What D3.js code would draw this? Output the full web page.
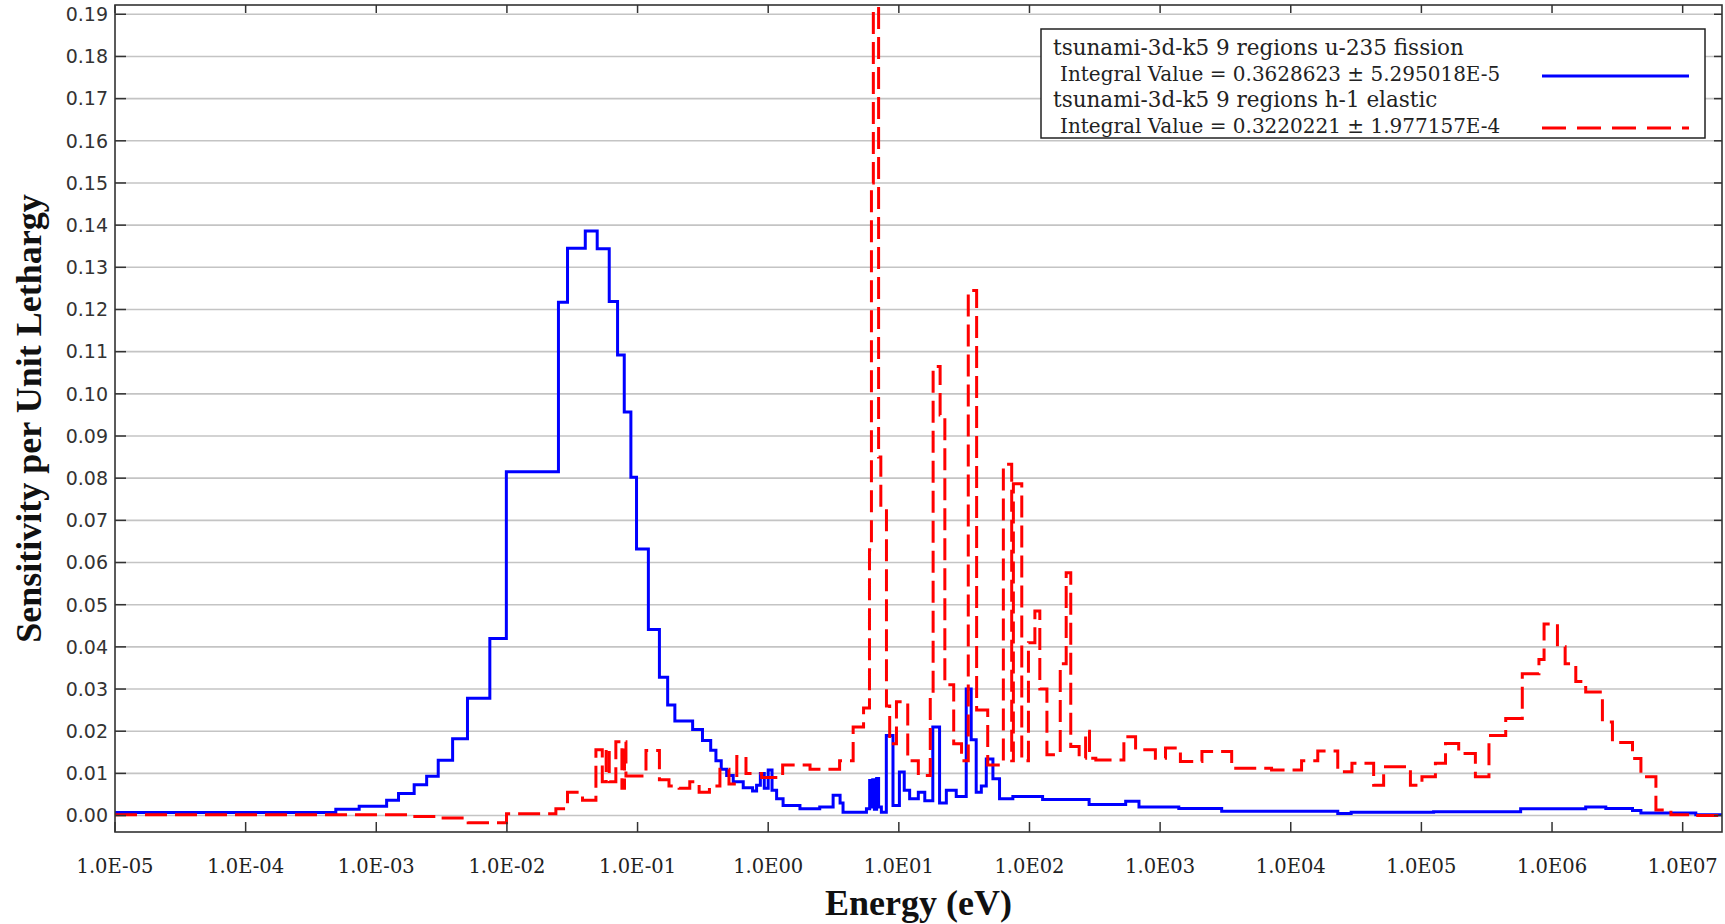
<!DOCTYPE html>
<html>
<head>
<meta charset="utf-8">
<script src="https://cdn.jsdelivr.net/npm/d3@7"></script>
<style>
  body { margin: 0; background: #fff; }
  svg { display: block; }
</style>
</head>
<body>
<svg id="chart" width="1725" height="924"></svg>
<script>
// step curves: bin lower energy (eV) and sensitivity per unit lethargy
const u235Energy = [1e-5, 4.9e-4, 7.4e-4, 1.2e-3, 1.48e-3, 1.95e-3, 2.43e-3, 2.98e-3, 3.84e-3, 4.99e-3,
  7.4e-3, 9.9e-3, 2.48e-2, 2.91e-2, 3.98e-2, 4.91e-2, 6.07e-2, 7.03e-2, 7.91e-2, 8.89e-2,
  9.82e-2, 0.121, 0.147, 0.170, 0.193, 0.264, 0.314, 0.363, 0.398, 0.437,
  0.481, 0.540, 0.644, 0.759, 0.815, 0.871, 0.933, 1.0, 1.07, 1.16,
  1.30, 1.75, 2.48, 3.14, 3.55, 3.74, 5.65, 5.98, 6.15, 6.31,
  6.5, 6.76, 7.0, 7.35, 8.02, 9.02, 10.1, 11.0, 12.1, 14.1,
  15.8, 18.2, 20.5, 23.1, 27.5, 32.8, 35.8, 39.1, 42.8, 46.7,
  52.5, 59.0, 74.6, 126, 286, 545, 689, 1390, 2960, 22900,
  29000, 124000, 575000, 1.81e6, 2.58e6, 4.13e6, 4.79e6, 1.26e7, 2e7];
const u235Sens = [0.0007, 0.0015, 0.0022, 0.0036, 0.0052, 0.0073, 0.0093, 0.0131, 0.0182, 0.0278,
  0.0420, 0.0815, 0.1217, 0.1345, 0.1386, 0.1344, 0.1219, 0.1092, 0.0957, 0.0802,
  0.0632, 0.0441, 0.0328, 0.0262, 0.0224, 0.0204, 0.0178, 0.0155, 0.0130, 0.0110,
  0.0095, 0.0080, 0.0066, 0.0058, 0.0072, 0.0100, 0.0065, 0.0108, 0.0060, 0.0040,
  0.0024, 0.0016, 0.0020, 0.0048, 0.0030, 0.0008, 0.0016, 0.0083, 0.0020, 0.0085,
  0.0015, 0.0088, 0.0020, 0.0008, 0.0190, 0.0024, 0.0103, 0.0060, 0.0040, 0.0055,
  0.0035, 0.0210, 0.0030, 0.0060, 0.0045, 0.0300, 0.0180, 0.0055, 0.0070, 0.0134,
  0.0087, 0.0040, 0.0045, 0.0038, 0.0026, 0.0034, 0.0020, 0.0017, 0.0010, 0.0005,
  0.0008, 0.0009, 0.0016, 0.0020, 0.0017, 0.0012, 0.0006, 0.0002, 0.0002];

const h1Energy = [1e-5, 1.91e-3, 2.89e-3, 5.05e-3, 9.93e-3, 2.37e-2, 2.91e-2, 3.79e-2, 4.80e-2, 5.37e-2,
  5.75e-2, 6.07e-2, 6.82e-2, 7.59e-2, 7.94e-2, 8.15e-2, 0.116, 0.147, 0.174, 0.208,
  0.251, 0.296, 0.355, 0.427, 0.501, 0.575, 0.676, 0.891, 1.29, 2.09,
  3.52, 4.47, 5.37, 5.96, 6.17, 6.38, 7.00, 7.28, 8.04, 8.51,
  9.59, 11.7, 14.1, 17.4, 18.3, 20.7, 22.5, 26.3, 30.2, 34.0,
  39.4, 47.9, 63.1, 73.1, 75.3, 87.3, 98.2, 110, 120, 136,
  172, 191, 207, 240, 269, 288, 322, 528, 649, 920,
  1100, 1430, 2090, 3530, 7130, 12100, 16100, 22900, 29400, 43100,
  51400, 82400, 101000, 128000, 153000, 193000, 259000, 329000, 442000, 592000,
  794000, 869000, 1.10e6, 1.26e6, 1.52e6, 1.81e6, 2.43e6, 2.90e6, 4.13e6, 4.79e6,
  6.24e6, 8.13e6, 1.26e7, 2e7];
const h1Sens = [0.0002, -0.0002, -0.0006, -0.0017, 0.0004, 0.0016, 0.0055, 0.0036, 0.0156, 0.0080,
  0.0160, 0.0080, 0.0175, 0.0065, 0.0175, 0.0094, 0.0154, 0.0085, 0.0070, 0.0065,
  0.0080, 0.0055, 0.0070, 0.0110, 0.0075, 0.0140, 0.0100, 0.0090, 0.0120, 0.0110,
  0.0130, 0.0210, 0.0255, 0.0630, 0.1500, 0.1950, 0.0850, 0.0730, 0.0260, 0.0170,
  0.0270, 0.0130, 0.0095, 0.0287, 0.1065, 0.0950, 0.0310, 0.0170, 0.0130, 0.1245,
  0.0250, 0.0120, 0.0833, 0.0130, 0.0787, 0.0130, 0.0410, 0.0485, 0.0300, 0.0144,
  0.0360, 0.0576, 0.0164, 0.0136, 0.0200, 0.0136, 0.0132, 0.0187, 0.0156, 0.0136,
  0.0160, 0.0128, 0.0152, 0.0112, 0.0108, 0.0130, 0.0153, 0.0104, 0.0124, 0.0072,
  0.0116, 0.0072, 0.0092, 0.0124, 0.0171, 0.0147, 0.0092, 0.0190, 0.0230, 0.0336,
  0.0370, 0.0454, 0.0400, 0.0360, 0.0318, 0.0293, 0.0222, 0.0173, 0.0135, 0.0092,
  0.0013, 0.0002, 0.0000, 0.0000];

const xTickValues = [1e-5, 1e-4, 1e-3, 1e-2, 1e-1, 1e0, 1e1, 1e2, 1e3, 1e4, 1e5, 1e6, 1e7];
const xTickLabels = ["1.0E-05", "1.0E-04", "1.0E-03", "1.0E-02", "1.0E-01", "1.0E00", "1.0E01",
  "1.0E02", "1.0E03", "1.0E04", "1.0E05", "1.0E06", "1.0E07"];
const yTickValues = d3.range(0, 20).map(i => i / 100);

const legendNames = ["tsunami-3d-k5 9 regions u-235 fission", "tsunami-3d-k5 9 regions h-1 elastic"];
const legendIntegrals = ["Integral Value = 0.3628623 \u00b1 5.295018E-5", "Integral Value = 0.3220221 \u00b1 1.977157E-4"];
const seriesColors = ["#0000ff", "#ff0000"];

const svg = d3.select("#chart");
const plotLeft = 115, plotRight = 1722, plotTop = 5, plotBottom = 832;

const x = d3.scaleLog().domain([1e-5, 2e7]).range([plotLeft, plotRight]);
const y = d3.scaleLinear().domain([-0.0039, 0.1922]).range([plotBottom, plotTop]);

svg.append("defs").append("clipPath").attr("id", "plot-clip")
  .append("rect")
  .attr("x", plotLeft).attr("y", plotTop)
  .attr("width", plotRight - plotLeft).attr("height", plotBottom - plotTop);

// horizontal grid
svg.append("g")
  .selectAll("line")
  .data(yTickValues)
  .join("line")
  .attr("x1", plotLeft).attr("x2", plotRight)
  .attr("y1", d => y(d)).attr("y2", d => y(d))
  .attr("stroke", "#c4c4c4")
  .attr("stroke-width", 1.6);

// curves
const stepLine = d3.line()
  .x(d => x(d[0]))
  .y(d => y(d[1]))
  .curve(d3.curveStepAfter);

const curves = svg.append("g").attr("clip-path", "url(#plot-clip)");

curves.append("path")
  .datum(d3.zip(u235Energy, u235Sens))
  .attr("d", stepLine)
  .attr("fill", "none")
  .attr("stroke", seriesColors[0])
  .attr("stroke-width", 3);

curves.append("path")
  .datum(d3.zip(h1Energy, h1Sens))
  .attr("d", stepLine)
  .attr("fill", "none")
  .attr("stroke", seriesColors[1])
  .attr("stroke-width", 3)
  .attr("stroke-dasharray", "22,8");

// frame
svg.append("rect")
  .attr("x", plotLeft).attr("y", plotTop)
  .attr("width", plotRight - plotLeft).attr("height", plotBottom - plotTop)
  .attr("fill", "none")
  .attr("stroke", "#333")
  .attr("stroke-width", 1.6);

// ticks
const tickG = svg.append("g").attr("stroke", "#333").attr("stroke-width", 1.5);
yTickValues.forEach(v => {
  tickG.append("line").attr("x1", plotLeft).attr("x2", plotLeft + 11).attr("y1", y(v)).attr("y2", y(v));
  tickG.append("line").attr("x1", plotRight - 8).attr("x2", plotRight).attr("y1", y(v)).attr("y2", y(v));
});
xTickValues.forEach(v => {
  tickG.append("line").attr("x1", x(v)).attr("x2", x(v)).attr("y1", plotBottom).attr("y2", plotBottom - 10);
  tickG.append("line").attr("x1", x(v)).attr("x2", x(v)).attr("y1", plotTop).attr("y2", plotTop + 8);
});

// tick labels
svg.append("g")
  .selectAll("text")
  .data(yTickValues)
  .join("text")
  .attr("x", 108)
  .attr("y", d => y(d))
  .attr("dy", "0.36em")
  .attr("text-anchor", "end")
  .style("font-family", "'DejaVu Sans', sans-serif")
  .style("font-size", "19px")
  .style("fill", "#333")
  .text(d => d.toFixed(2));

svg.append("g")
  .selectAll("text")
  .data(xTickValues)
  .join("text")
  .attr("x", d => x(d))
  .attr("y", 873)
  .attr("text-anchor", "middle")
  .style("font-family", "'DejaVu Serif', serif")
  .style("font-size", "19.5px")
  .style("fill", "#222")
  .text((d, i) => xTickLabels[i]);

// axis titles
svg.append("text")
  .attr("x", (plotLeft + plotRight) / 2)
  .attr("y", 915)
  .attr("text-anchor", "middle")
  .style("font-family", "'Liberation Serif', serif")
  .style("font-weight", "bold")
  .style("font-size", "36px")
  .style("fill", "#111")
  .text("Energy (eV)");

svg.append("text")
  .attr("transform", `translate(41, ${(plotTop + plotBottom) / 2}) rotate(-90)`)
  .attr("text-anchor", "middle")
  .style("font-family", "'Liberation Serif', serif")
  .style("font-weight", "bold")
  .style("font-size", "36px")
  .style("fill", "#111")
  .text("Sensitivity per Unit Lethargy");

// legend
const legend = svg.append("g");
legend.append("rect")
  .attr("x", 1041).attr("y", 29)
  .attr("width", 664).attr("height", 109)
  .attr("fill", "#fff")
  .attr("stroke", "#222")
  .attr("stroke-width", 1.5);

legendNames.forEach((name, i) => {
  const base = 55 + i * 52;
  legend.append("text")
    .attr("x", 1053).attr("y", base)
    .style("font-family", "'DejaVu Serif', serif")
    .style("font-size", "21.5px")
    .style("fill", "#222")
    .text(name);
  legend.append("text")
    .attr("x", 1060).attr("y", base + 26)
    .style("font-family", "'DejaVu Serif', serif")
    .style("font-size", "20px")
    .style("fill", "#222")
    .text(legendIntegrals[i]);
  legend.append("line")
    .attr("x1", 1542).attr("x2", 1689)
    .attr("y1", base + 21).attr("y2", base + 21)
    .attr("stroke", seriesColors[i])
    .attr("stroke-width", 3)
    .attr("stroke-dasharray", i === 1 ? "24,11" : null);
});
</script>
</body>
</html>
